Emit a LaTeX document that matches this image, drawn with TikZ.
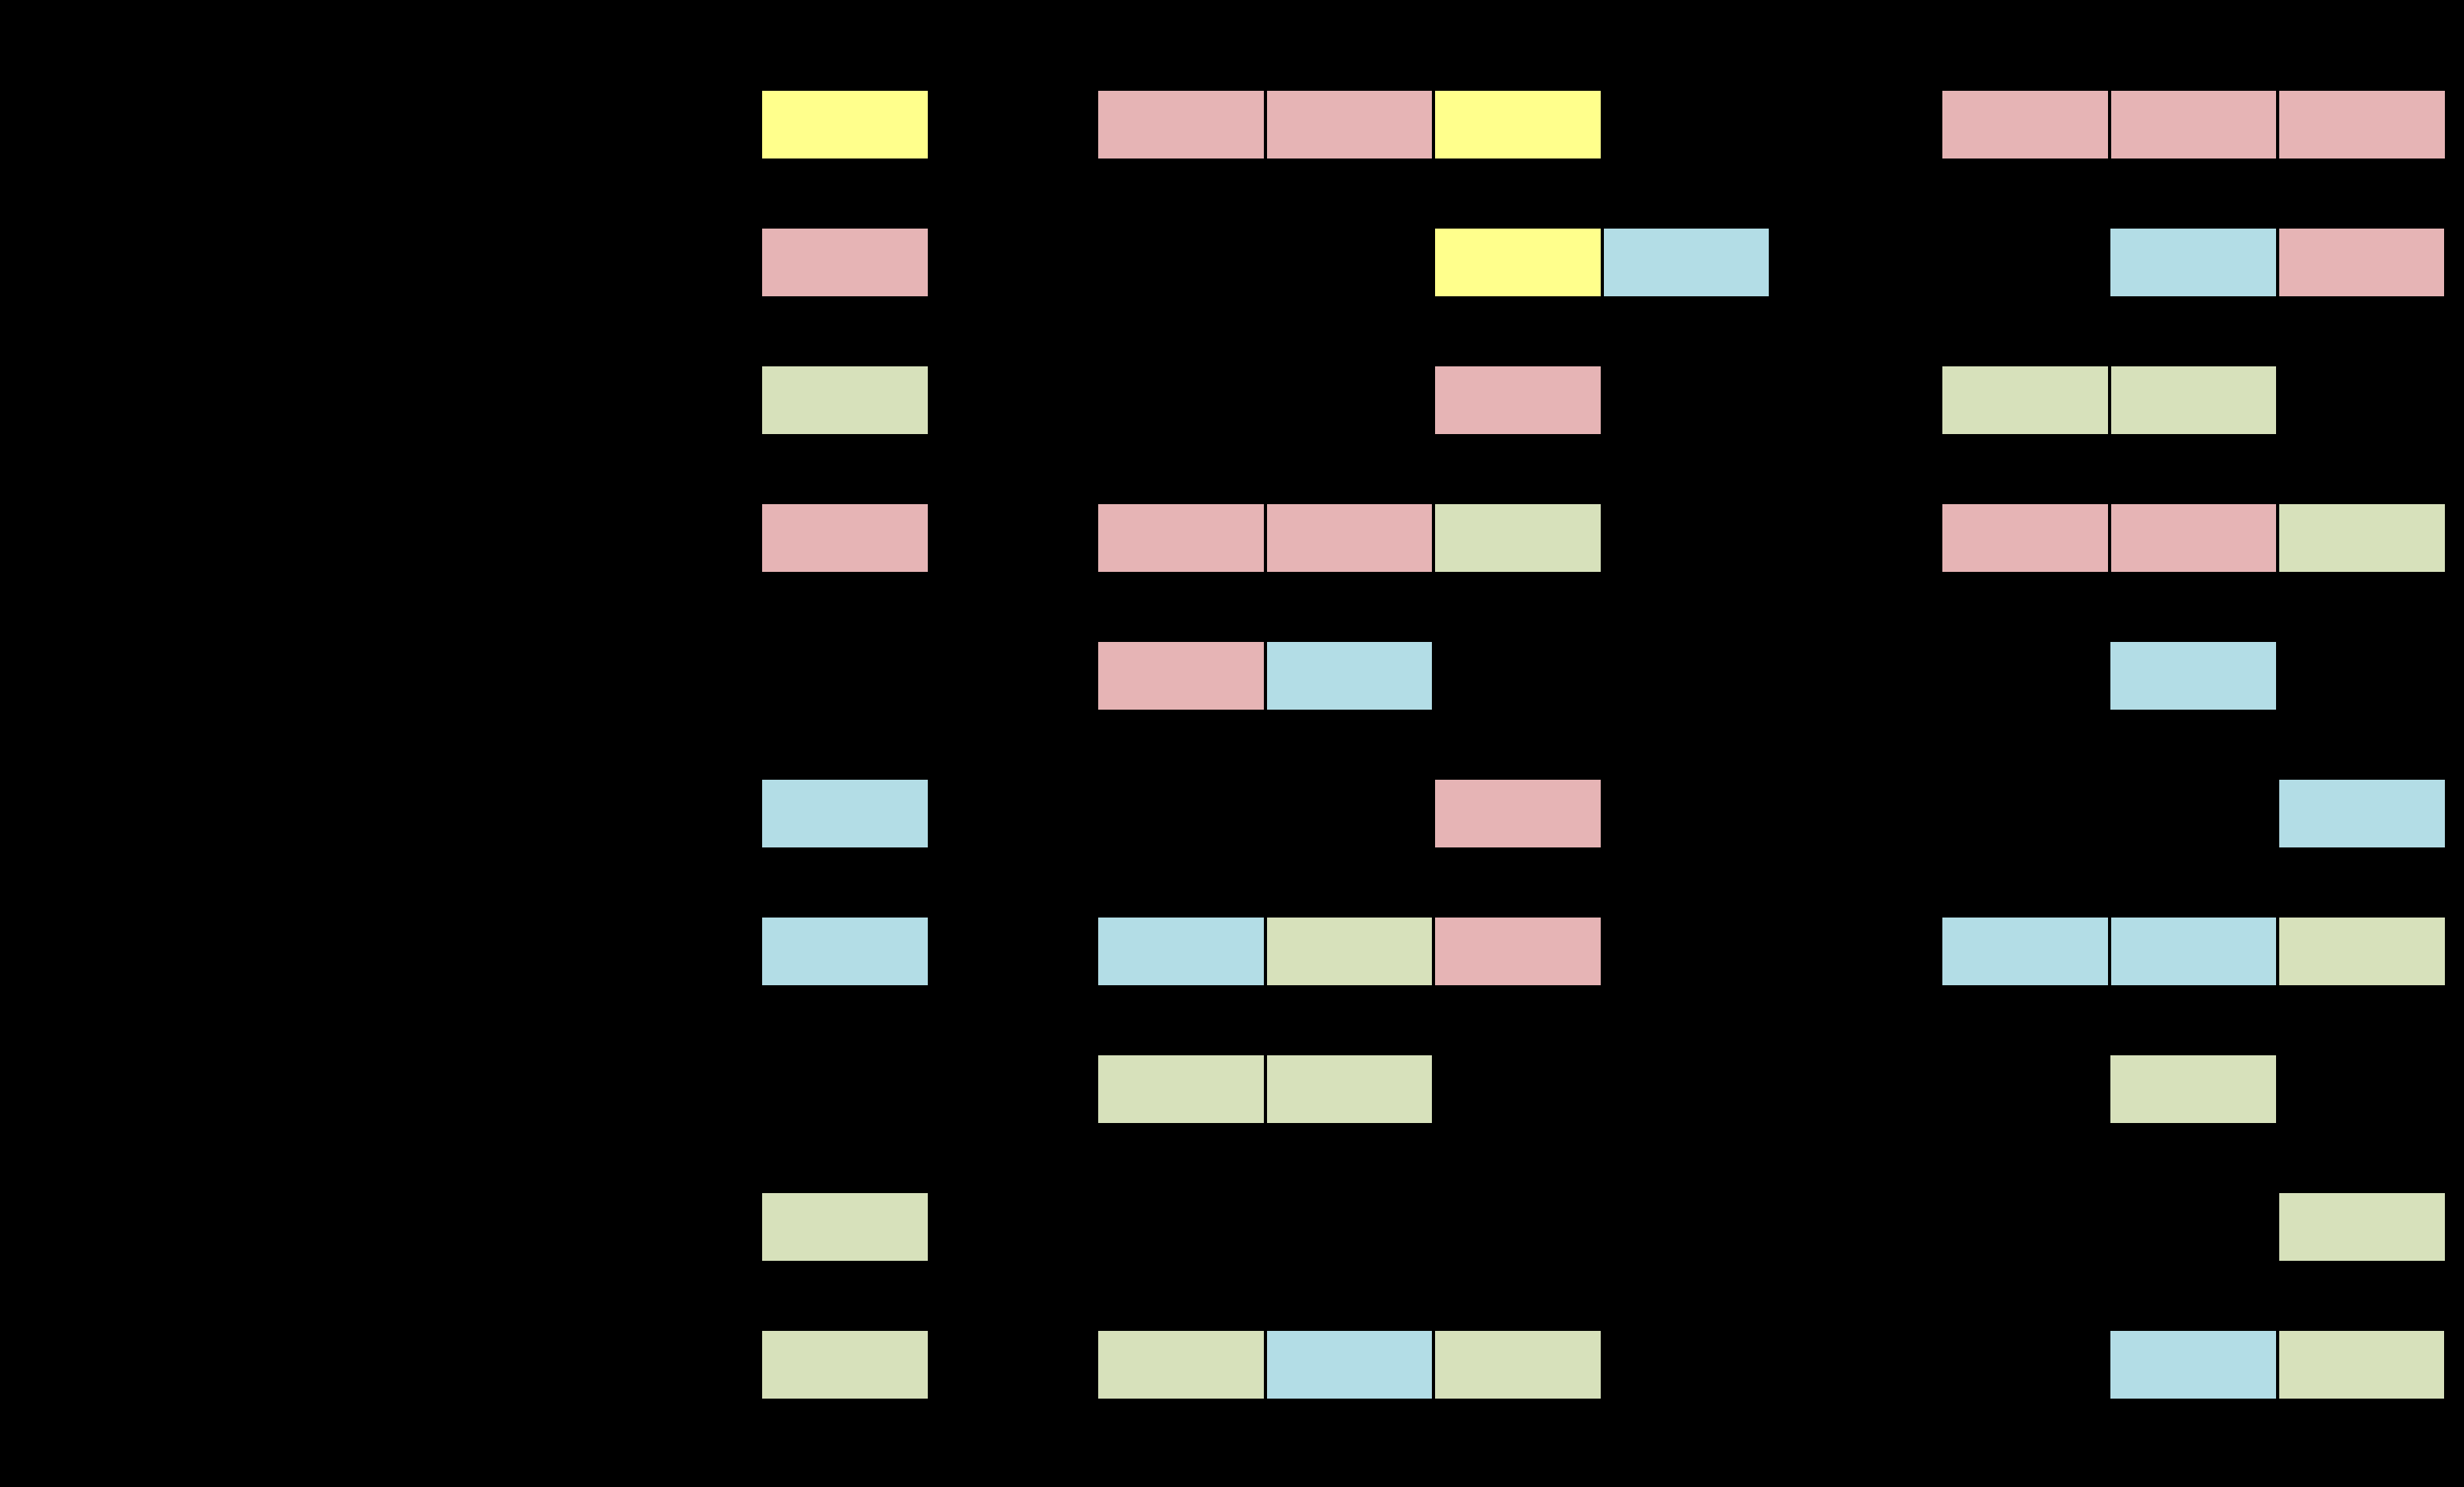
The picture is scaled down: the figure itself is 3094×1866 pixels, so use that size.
\documentclass[tikz,border=0pt]{standalone}
\usepackage{xcolor}
\usetikzlibrary{positioning}
\definecolor{cellyellow}{RGB}{255,255,140}
\definecolor{cellpink}{RGB}{230,180,181}
\definecolor{cellblue}{RGB}{179,221,230}
\definecolor{cellgreen}{RGB}{215,225,187}

\begin{document}
\begin{tikzpicture}[x=0.01cm,y=-0.01cm,
  cell/.style={draw=black,line width=1.1pt,minimum width=2.115cm,minimum height=0.89cm,
    inner sep=0pt,outer sep=0pt,anchor=north west},
  yel/.style={cell,fill=cellyellow},
  pnk/.style={cell,fill=cellpink},
  blu/.style={cell,fill=cellblue},
  grn/.style={cell,fill=cellgreen}]
  \useasboundingbox (0,0) rectangle (3094,1866);
  \fill[black] (-5,-5) rectangle (3099,1871);
  % left column
  \node[yel] (a1) at (955,112) {};
  \node[pnk] (a2) at (955,285) {};
  \node[grn] (a3) at (955,458) {};
  \node[pnk] (a4) at (955,631) {};
  \node[blu] (a6) at (955,977) {};
  \node[blu] (a7) at (955,1150) {};
  \node[grn] (a9) at (955,1496) {};
  \node[grn] (a10) at (955,1669) {};
  % middle column
  \node[pnk] (b1-1) at (1377,112) {};
  \node[pnk,right=0pt of b1-1] (b1-2) {};
  \node[yel,right=0pt of b1-2] (b1-3) {};
  \node[yel] (b2-3) at (1800,285) {};
  \node[blu,right=0pt of b2-3] (b2-4) {};
  \node[pnk] (b3-3) at (1800,458) {};
  \node[pnk] (b4-1) at (1377,631) {};
  \node[pnk,right=0pt of b4-1] (b4-2) {};
  \node[grn,right=0pt of b4-2] (b4-3) {};
  \node[pnk] (b5-1) at (1377,804) {};
  \node[blu,right=0pt of b5-1] (b5-2) {};
  \node[pnk] (b6-3) at (1800,977) {};
  \node[blu] (b7-1) at (1377,1150) {};
  \node[grn,right=0pt of b7-1] (b7-2) {};
  \node[pnk,right=0pt of b7-2] (b7-3) {};
  \node[grn] (b8-1) at (1377,1323) {};
  \node[grn,right=0pt of b8-1] (b8-2) {};
  \node[grn] (b10-1) at (1377,1669) {};
  \node[blu,right=0pt of b10-1] (b10-2) {};
  \node[grn,right=0pt of b10-2] (b10-3) {};
  % right column
  \node[pnk] (c1-1) at (2437,112) {};
  \node[pnk,right=0pt of c1-1] (c1-2) {};
  \node[pnk,right=0pt of c1-2] (c1-3) {};
  \node[blu] (c2-2) at (2648,285) {};
  \node[pnk,right=0pt of c2-2] (c2-3) {};
  \node[grn] (c3-1) at (2437,458) {};
  \node[grn,right=0pt of c3-1] (c3-2) {};
  \node[pnk] (c4-1) at (2437,631) {};
  \node[pnk,right=0pt of c4-1] (c4-2) {};
  \node[grn,right=0pt of c4-2] (c4-3) {};
  \node[blu] (c5-2) at (2648,804) {};
  \node[blu] (c6-3) at (2860,977) {};
  \node[blu] (c7-1) at (2437,1150) {};
  \node[blu,right=0pt of c7-1] (c7-2) {};
  \node[grn,right=0pt of c7-2] (c7-3) {};
  \node[grn] (c8-2) at (2648,1323) {};
  \node[grn] (c9-3) at (2860,1496) {};
  \node[blu] (c10-2) at (2648,1669) {};
  \node[grn,right=0pt of c10-2] (c10-3) {};
\end{tikzpicture}
\end{document}
